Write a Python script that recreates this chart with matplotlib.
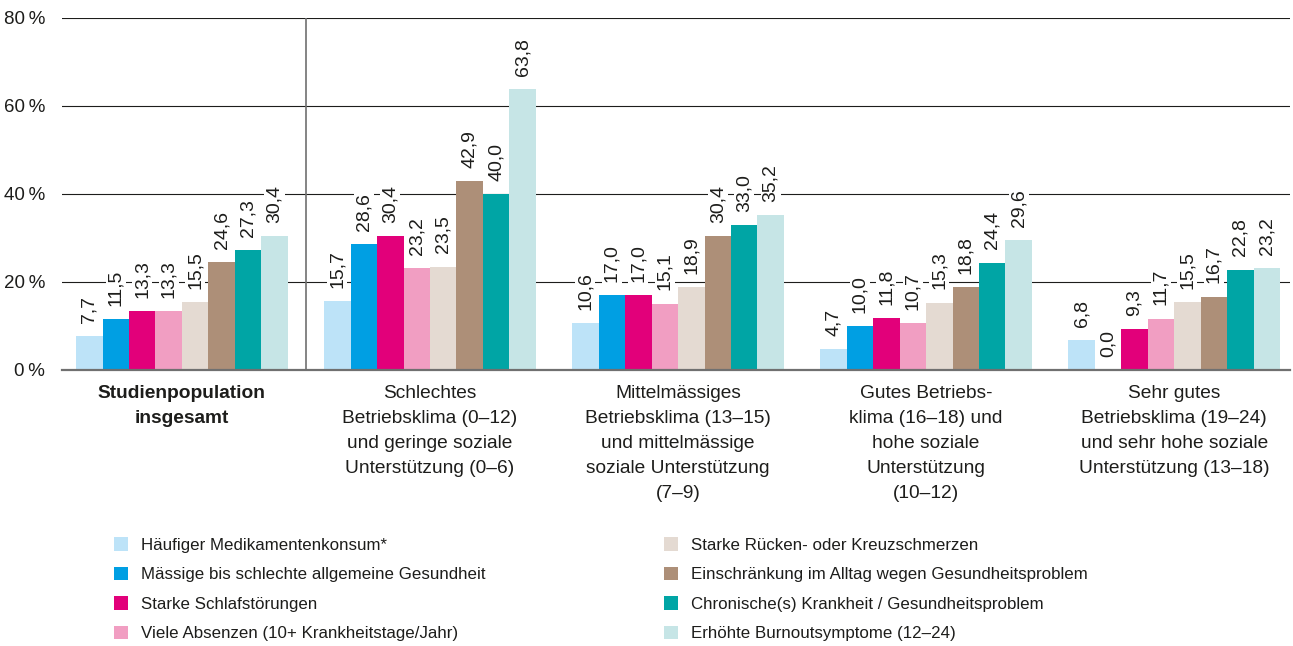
import numpy as np
import matplotlib
matplotlib.use("Agg")
import matplotlib.pyplot as plt

plt.rcParams['font.family'] = ['Liberation Sans', 'DejaVu Sans']

groups = [
    "Studienpopulation\ninsgesamt",
    "Schlechtes\nBetriebsklima (0–12)\nund geringe soziale\nUnterstützung (0–6)",
    "Mittelmässiges\nBetriebsklima (13–15)\nund mittelmässige\nsoziale Unterstützung\n(7–9)",
    "Gutes Betriebs-\nklima (16–18) und\nhohe soziale\nUnterstützung\n(10–12)",
    "Sehr gutes\nBetriebsklima (19–24)\nund sehr hohe soziale\nUnterstützung (13–18)",
]

series = [
    "Häufiger Medikamentenkonsum*",
    "Mässige bis schlechte allgemeine Gesundheit",
    "Starke Schlafstörungen",
    "Viele Absenzen (10+ Krankheitstage/Jahr)",
    "Starke Rücken- oder Kreuzschmerzen",
    "Einschränkung im Alltag wegen Gesundheitsproblem",
    "Chronische(s) Krankheit / Gesundheitsproblem",
    "Erhöhte Burnoutsymptome (12–24)",
]

colors = ["#bde3f8", "#009fe3", "#e2007a", "#f19ec2",
          "#e4dad2", "#ad8f78", "#00a5a5", "#c6e5e6"]

# values per series, one entry per group
medikamente = [7.7, 15.7, 10.6, 4.7, 6.8]
gesundheit = [11.5, 28.6, 17.0, 10.0, 0.0]
schlaf = [13.3, 30.4, 17.0, 11.8, 9.3]
absenzen = [13.3, 23.2, 15.1, 10.7, 11.7]
ruecken = [15.5, 23.5, 18.9, 15.3, 15.5]
alltag = [24.6, 42.9, 30.4, 18.8, 16.7]
chronisch = [27.3, 40.0, 33.0, 24.4, 22.8]
burnout = [30.4, 63.8, 35.2, 29.6, 23.2]

values = [medikamente, gesundheit, schlaf, absenzen,
          ruecken, alltag, chronisch, burnout]

yticks = [0, 20, 40, 60, 80]

TXT = "#1d1d1b"

fig = plt.figure(figsize=(12.93, 6.46), dpi=100)
ax = fig.add_axes([62 / 1293, 1 - 370 / 646, 1228 / 1293, 352 / 646])

x = np.arange(len(groups))
w = 0.1067
handles = []
for k, (vals, col) in enumerate(zip(values, colors)):
    pos = x + (k - 3.5) * w
    b = ax.bar(pos, vals, width=w, color=col, zorder=2, linewidth=0)
    handles.append(b)
    for xp, v in zip(pos, vals):
        ax.annotate(f"{v:.1f}".replace(".", ","), (xp, v),
                    xytext=(0, 9.5), textcoords="offset points",
                    rotation=90, ha="center", va="bottom",
                    fontsize=14, color=TXT, zorder=3,
                    bbox=dict(boxstyle="square,pad=0.08", fc="white", ec="none"))

ax.set_xlim(-0.4834, 4.467)
ax.set_ylim(0, 80)
ax.set_yticks(yticks)
ax.set_yticklabels([f"{t}\u2009%" for t in yticks], fontsize=13.5, color=TXT)
ax.tick_params(axis="y", length=0, pad=12)
ax.set_xticks([])
ax.yaxis.grid(True, color="#1d1d1b", linewidth=0.8, zorder=0)
ax.set_axisbelow(True)
for s in ["top", "right", "left"]:
    ax.spines[s].set_visible(False)
ax.spines["bottom"].set_color("#707070")
ax.spines["bottom"].set_linewidth(1.6)
ax.spines["bottom"].set_zorder(4)

# separator between total and the subgroups
ax.axvline(0.5, color="#707070", linewidth=1.2, zorder=1)

for i, g in enumerate(groups):
    ax.text(i, -0.043, g, transform=ax.get_xaxis_transform(),
            ha="center", va="top", fontsize=13.8, color=TXT,
            linespacing=1.62, fontweight="bold" if i == 0 else "normal")

leg_kw = dict(frameon=False, fontsize=12.2, handlelength=0.85, handleheight=0.85,
              handletextpad=0.75, labelspacing=0.82, borderpad=0, borderaxespad=0,
              labelcolor=TXT)
leg1 = fig.legend(handles[:4], series[:4], loc="upper left",
                  bbox_to_anchor=(114 / 1293, 1 - 537 / 646), **leg_kw)
leg2 = fig.legend(handles[4:], series[4:], loc="upper left",
                  bbox_to_anchor=(664 / 1293, 1 - 537 / 646), **leg_kw)

fig.savefig("out.png", dpi=100)
